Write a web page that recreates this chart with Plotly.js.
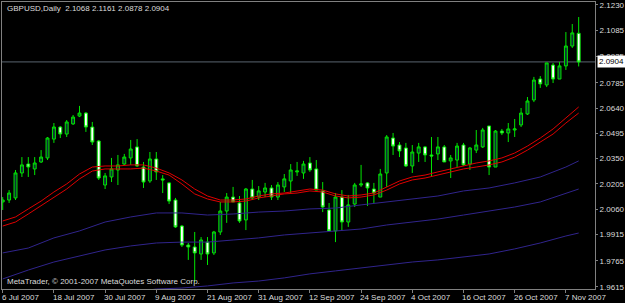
<!DOCTYPE html>
<html>
<head>
<meta charset="utf-8">
<script src="https://cdn.plot.ly/plotly-3.0.1.min.js"></script>
<style>
  html, body { margin: 0; padding: 0; background: #000; }
  #chart { width: 625px; height: 303px; }
</style>
</head>
<body>
<div id="chart"></div>
<script>
// ---------- data ----------
const symbol = "GBPUSD";
const timeframe = "Daily";

// trading days (weekdays) from 6 Jul 2007 to 9 Nov 2007
const dates = [];
(function () {
  const d = new Date(Date.UTC(2007, 6, 6));
  const end = new Date(Date.UTC(2007, 10, 9));
  while (d <= end) {
    const wd = d.getUTCDay();
    if (wd !== 0 && wd !== 6) dates.push(d.toISOString().slice(0, 10));
    d.setUTCDate(d.getUTCDate() + 1);
  }
})();

const open = [2.0102, 2.0113, 2.0125, 2.0268, 2.0319, 2.0291, 2.0331, 2.0354, 2.0462, 2.0531,
  2.0491, 2.0549, 2.0594, 2.0611, 2.0531, 2.0451, 2.0199, 2.0245, 2.0285, 2.0319,
  2.0354, 2.0417, 2.0302, 2.0222, 2.0348, 2.0234, 2.0211, 2.0113, 1.9964, 1.9855,
  1.9844, 1.9804, 1.9872, 1.9810, 1.9930, 2.0050, 2.0130, 2.0096, 1.9999, 2.0176,
  2.0130, 2.0159, 2.0182, 2.0130, 2.0188, 2.0222, 2.0274, 2.0268, 2.0325, 2.0291,
  2.0165, 2.0056, 1.9936, 2.0130, 1.9987, 2.0090, 2.0199, 2.0211, 2.0176, 2.0130,
  2.0268, 2.0468, 2.0428, 2.0411, 2.0308, 2.0382, 2.0417, 2.0371, 2.0377, 2.0417,
  2.0337, 2.0342, 2.0428, 2.0319, 2.0399, 2.0417, 2.0537, 2.0302, 2.0508, 2.0497,
  2.0514, 2.0543, 2.0606, 2.0686, 2.0806, 2.0772, 2.0886, 2.0806, 2.0881, 2.0995,
  2.1068];

const high = [2.0130, 2.0170, 2.0285, 2.0359, 2.0359, 2.0359, 2.0399, 2.0474, 2.0554, 2.0537,
  2.0571, 2.0600, 2.0652, 2.0617, 2.0560, 2.0457, 2.0268, 2.0354, 2.0371, 2.0377,
  2.0457, 2.0462, 2.0331, 2.0388, 2.0388, 2.0256, 2.0216, 2.0125, 1.9970, 1.9867,
  1.9930, 1.9901, 1.9901, 1.9936, 2.0102, 2.0153, 2.0188, 2.0136, 2.0182, 2.0228,
  2.0193, 2.0211, 2.0199, 2.0216, 2.0262, 2.0319, 2.0331, 2.0337, 2.0359, 2.0342,
  2.0216, 2.0096, 2.0153, 2.0170, 2.0142, 2.0211, 2.0314, 2.0216, 2.0211, 2.0291,
  2.0485, 2.0497, 2.0445, 2.0440, 2.0428, 2.0440, 2.0422, 2.0474, 2.0474, 2.0428,
  2.0371, 2.0440, 2.0440, 2.0417, 2.0514, 2.0526, 2.0537, 2.0514, 2.0520, 2.0554,
  2.0577, 2.0640, 2.0703, 2.0818, 2.0823, 2.0898, 2.0898, 2.0904, 2.1075, 2.1121,
  2.1161];

const low = [2.0056, 2.0096, 2.0113, 2.0245, 2.0245, 2.0256, 2.0325, 2.0342, 2.0440, 2.0468,
  2.0474, 2.0543, 2.0588, 2.0503, 2.0428, 2.0228, 2.0176, 2.0216, 2.0199, 2.0314,
  2.0314, 2.0302, 2.0182, 2.0211, 2.0228, 2.0153, 2.0090, 1.9953, 1.9844, 1.9770,
  1.9643, 1.9770, 1.9741, 1.9798, 1.9913, 1.9982, 2.0102, 1.9982, 1.9941, 2.0113,
  2.0113, 2.0130, 2.0113, 2.0113, 2.0159, 2.0148, 2.0251, 2.0234, 2.0274, 2.0170,
  2.0044, 1.9930, 1.9872, 1.9941, 1.9959, 2.0073, 2.0188, 2.0079, 2.0096, 2.0130,
  2.0188, 2.0371, 2.0359, 2.0302, 2.0268, 2.0331, 2.0331, 2.0245, 2.0342, 2.0331,
  2.0239, 2.0302, 2.0308, 2.0285, 2.0382, 2.0411, 2.0256, 2.0302, 2.0485, 2.0445,
  2.0474, 2.0531, 2.0600, 2.0674, 2.0755, 2.0760, 2.0783, 2.0806, 2.0858, 2.0984,
  2.0878];

const close = [2.0113, 2.0153, 2.0268, 2.0314, 2.0302, 2.0325, 2.0359, 2.0468, 2.0531, 2.0491,
  2.0560, 2.0588, 2.0611, 2.0531, 2.0445, 2.0239, 2.0251, 2.0291, 2.0314, 2.0359,
  2.0405, 2.0308, 2.0216, 2.0348, 2.0274, 2.0228, 2.0107, 1.9959, 1.9855, 1.9844,
  1.9810, 1.9884, 1.9804, 1.9930, 2.0050, 2.0130, 2.0102, 1.9993, 2.0176, 2.0125,
  2.0165, 2.0182, 2.0130, 2.0199, 2.0234, 2.0285, 2.0279, 2.0319, 2.0285, 2.0170,
  2.0073, 1.9936, 2.0130, 1.9987, 2.0085, 2.0199, 2.0205, 2.0182, 2.0153, 2.0262,
  2.0474, 2.0422, 2.0394, 2.0308, 2.0388, 2.0417, 2.0371, 2.0365, 2.0417, 2.0331,
  2.0354, 2.0422, 2.0314, 2.0411, 2.0428, 2.0514, 2.0302, 2.0508, 2.0497, 2.0520,
  2.0520, 2.0611, 2.0680, 2.0800, 2.0778, 2.0898, 2.0806, 2.0881, 2.0995, 2.1070,
  2.0904];

// red moving-average pair, read every 2nd bar
const redDates = dates.filter((d, i) => i % 2 === 0);
const redUpper = [1.9993, 2.0016, 2.0062, 2.0107, 2.0159, 2.0205, 2.0262, 2.0302, 2.0308, 2.0308,
  2.0314, 2.0314, 2.0296, 2.0268, 2.0228, 2.0176, 2.0136, 2.0113, 2.0113, 2.0119,
  2.0136, 2.0148, 2.0153, 2.0165, 2.0176, 2.0170, 2.0148, 2.0136, 2.0142, 2.0153,
  2.0188, 2.0222, 2.0245, 2.0256, 2.0274, 2.0291, 2.0308, 2.0325, 2.0337, 2.0354,
  2.0382, 2.0422, 2.0468, 2.0520, 2.0583, 2.0646];
const redLower = [1.9964, 1.9987, 2.0033, 2.0079, 2.0130, 2.0176, 2.0234, 2.0279, 2.0291, 2.0291,
  2.0291, 2.0296, 2.0279, 2.0256, 2.0205, 2.0148, 2.0119, 2.0102, 2.0102, 2.0107,
  2.0125, 2.0136, 2.0148, 2.0153, 2.0165, 2.0159, 2.0136, 2.0125, 2.0130, 2.0142,
  2.0170, 2.0205, 2.0228, 2.0239, 2.0256, 2.0274, 2.0291, 2.0302, 2.0314, 2.0331,
  2.0359, 2.0399, 2.0445, 2.0491, 2.0554, 2.0611];

// three blue moving averages, read every 4th bar (plus last bar)
const blueDates = dates.filter((d, i) => i % 4 === 0 || i === 90);
const blueA = [1.9810, 1.9838, 1.9896, 1.9936, 1.9987, 2.0016, 2.0039, 2.0039, 2.0027, 2.0033,
  2.0044, 2.0050, 2.0062, 2.0067, 2.0085, 2.0102, 2.0119, 2.0136, 2.0165, 2.0182,
  2.0211, 2.0245, 2.0302, 2.0337];
const blueB = [1.9661, 1.9712, 1.9758, 1.9792, 1.9827, 1.9850, 1.9867, 1.9872, 1.9872, 1.9884,
  1.9896, 1.9913, 1.9924, 1.9936, 1.9947, 1.9970, 1.9987, 2.0004, 2.0027, 2.0050,
  2.0073, 2.0102, 2.0153, 2.0176];
const blueCDates = dates.filter((d, i) => i >= 20 && (i % 4 === 0 || i === 90));
const blueC = [1.9586, 1.9603, 1.9609, 1.9621, 1.9638, 1.9649, 1.9667, 1.9690, 1.9707, 1.9724,
  1.9741, 1.9758, 1.9770, 1.9787, 1.9804, 1.9833, 1.9867, 1.9907, 1.9924];

const xTickDates = ["2007-07-06", "2007-07-18", "2007-07-30", "2007-08-09", "2007-08-21", "2007-08-31",
  "2007-09-12", "2007-09-24", "2007-10-04", "2007-10-16", "2007-10-26", "2007-11-07"];
const xTickLabels = ["6 Jul 2007", "18 Jul 2007", "30 Jul 2007", "9 Aug 2007", "21 Aug 2007", "31 Aug 2007",
  "12 Sep 2007", "24 Sep 2007", "4 Oct 2007", "16 Oct 2007", "26 Oct 2007", "7 Nov 2007"];
const yTickVals = [2.1230, 2.1085, 2.0935, 2.0785, 2.0640, 2.0495, 2.0350, 2.0205, 2.0060, 1.9915, 1.9765, 1.9615];

// ---------- chart ----------
const FONT = "Liberation Sans, Arial, sans-serif";
const TXT = "#dcdcdc";
const GREEN = "#00e600";
const last = close.length - 1;

const traces = [
  {
    type: "candlestick",
    x: dates, open: open, high: high, low: low, close: close,
    increasing: { line: { color: GREEN, width: 1 }, fillcolor: "#0c3434" },
    decreasing: { line: { color: GREEN, width: 1 }, fillcolor: "#ffffff" },
    whiskerwidth: 0,
    hoverinfo: "skip",
    showlegend: false
  },
  { type: "scatter", mode: "lines", x: redDates, y: redUpper, line: { color: "#e00000", width: 1 }, hoverinfo: "skip", showlegend: false },
  { type: "scatter", mode: "lines", x: redDates, y: redLower, line: { color: "#e00000", width: 1 }, hoverinfo: "skip", showlegend: false },
  { type: "scatter", mode: "lines", x: blueDates, y: blueA, line: { color: "#30248c", width: 1 }, hoverinfo: "skip", showlegend: false },
  { type: "scatter", mode: "lines", x: blueDates, y: blueB, line: { color: "#30248c", width: 1 }, hoverinfo: "skip", showlegend: false },
  { type: "scatter", mode: "lines", x: blueCDates, y: blueC, line: { color: "#30248c", width: 1 }, hoverinfo: "skip", showlegend: false }
];

const fmt = v => v.toFixed(4);

// date labels: left-aligned at their tick marks, as in the terminal
const dateLabelAnns = xTickDates.map((d, k) => ({
  xref: "x", yref: "paper", x: d, y: 0, xanchor: "left", yanchor: "top",
  xshift: -2, yshift: -3, showarrow: false, borderpad: 0,
  font: { family: FONT, size: 8, color: TXT }, text: xTickLabels[k]
}));

const layout = {
  width: 625, height: 303,
  margin: { l: 2, r: 30, t: 2, b: 14, pad: 0 },
  paper_bgcolor: "#000000",
  plot_bgcolor: "#000000",
  font: { family: FONT, size: 8, color: TXT },
  boxgap: 0.35,
  showlegend: false,
  xaxis: {
    type: "category",
    range: [-0.11, 92.55],
    rangeslider: { visible: false },
    tickmode: "array",
    tickvals: xTickDates,
    ticktext: xTickLabels,
    showticklabels: false,
    ticks: "outside", ticklen: 3, tickcolor: "#808080", tickwidth: 1,
    showline: true, linecolor: "#808080", linewidth: 1, mirror: true,
    showgrid: false, zeroline: false, fixedrange: true
  },
  yaxis: {
    side: "right",
    range: [1.96034, 2.12471],
    tickmode: "array",
    tickvals: yTickVals,
    tickformat: ".4f",
    ticks: "outside", ticklen: 2, tickcolor: "#808080", tickwidth: 1,
    tickfont: { family: FONT, size: 8, color: TXT },
    showline: true, linecolor: "#808080", linewidth: 1, mirror: true,
    showgrid: false, zeroline: false, fixedrange: true
  },
  shapes: [
    { type: "line", xref: "paper", x0: 0, x1: 1, yref: "y", y0: close[last], y1: close[last],
      line: { color: "#5a6470", width: 1 }, layer: "below" }
  ],
  annotations: [
    { xref: "paper", yref: "paper", x: 0, y: 1, xanchor: "left", yanchor: "top", xshift: 3, yshift: 0,
      showarrow: false, font: { family: FONT, size: 8, color: TXT },
      text: symbol + "," + timeframe + "\u00a0 " + fmt(open[last]) + " " + fmt(high[last]) + " " + fmt(low[last]) + " " + fmt(close[last]) },
    { xref: "paper", yref: "paper", x: 0, y: 0, xanchor: "left", yanchor: "bottom", xshift: 3, yshift: 1,
      showarrow: false, font: { family: FONT, size: 8, color: TXT },
      text: "MetaTrader, © 2001-2007 MetaQuotes Software Corp." },
    { xref: "paper", yref: "y", x: 1, y: close[last], xanchor: "left", yanchor: "middle", xshift: 2,
      showarrow: false, bgcolor: "#ffffff", borderpad: 1,
      font: { family: FONT, size: 8, color: "#000000" }, text: fmt(close[last]) }
  ].concat(dateLabelAnns)
};

Plotly.newPlot("chart", traces, layout, { staticPlot: true, displayModeBar: false });
</script>
</body>
</html>
